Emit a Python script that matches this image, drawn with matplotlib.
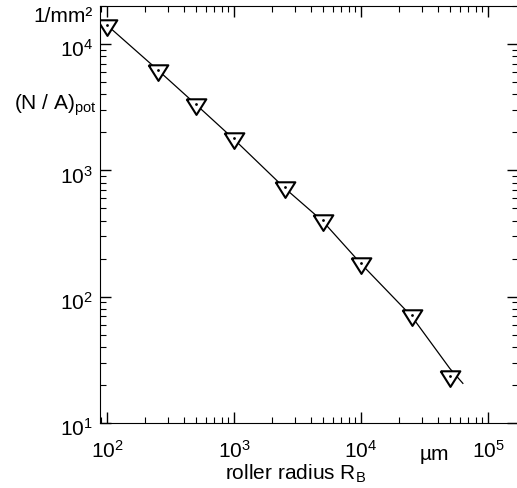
import matplotlib
matplotlib.use('Agg')
import matplotlib.pyplot as plt
from matplotlib.transforms import ScaledTranslation

plt.rcParams['font.family'] = ['Liberation Sans', 'DejaVu Sans']
plt.rcParams['mathtext.fontset'] = 'custom'
plt.rcParams['mathtext.rm'] = 'Liberation Sans'
plt.rcParams['mathtext.it'] = 'Liberation Sans'

# roller radius in um, potential number of contacts per mm^2
radius = [100, 250, 500, 1000, 2500, 5000, 10000, 25000, 50000]
density = [14100, 6200, 3360, 1800, 733, 405, 184, 71, 23.5]

# fitted curve
fit_x = [100, 250, 500, 1000, 2500, 5000, 10000, 25000, 50000, 63300]
fit_y = [14100, 6250, 3330, 1760, 725, 395, 182, 70, 27, 20.6]

# downward triangle with its centroid on the data point
tri = [(-1, 0.53), (1, 0.53), (0, -1.06), (-1, 0.53)]

fig = plt.figure(figsize=(5.17, 4.88), dpi=100)
ax = fig.add_axes([100 / 517, 1 - 423 / 488, 418 / 517, 417 / 488])

ax.plot(fit_x, fit_y, color='black', lw=0.9)
ax.plot(radius, density, linestyle='none', marker=tri, markersize=15,
        markerfacecolor='white', markeredgecolor='black', markeredgewidth=1.5)
ax.plot(radius, density, linestyle='none', marker='.', markersize=2, color='black')

ax.set_xscale('log')
ax.set_yscale('log')
ax.set_xlim(88, 1.72e5)
ax.set_ylim(10, 2e4)

ax.spines['right'].set_visible(False)
ax.tick_params(which='both', direction='in', top=True, right=True, labelsize=15)
ax.tick_params(axis='x', pad=12)
ax.tick_params(axis='y', pad=5)
ax.tick_params(which='major', length=8, width=1)
ax.tick_params(which='minor', length=4, width=0.8)
ax.set_xticks([1e2, 1e3, 1e4, 1e5])
ax.set_yticks([1e1, 1e2, 1e3, 1e4])

shift = ScaledTranslation(0, -4 / 100, fig.dpi_scale_trans)
for lab in ax.get_yticklabels():
    lab.set_transform(lab.get_transform() + shift)

fig.text(63 / 517, 1 - 16 / 488, '1/mm²', fontsize=15, ha='center', va='center')
fig.text(55 / 517, 1 - 105 / 488, '(N / A)$_{\\mathregular{pot}}$', fontsize=15, ha='center', va='center')
fig.text(296 / 517, 1 - 474 / 488, 'roller radius R$_{\\mathregular{B}}$', fontsize=15, ha='center', va='center')
fig.text(434 / 517, 1 - 455 / 488, 'µm', fontsize=15, ha='center', va='center')

fig.savefig('out.png', dpi=100)
